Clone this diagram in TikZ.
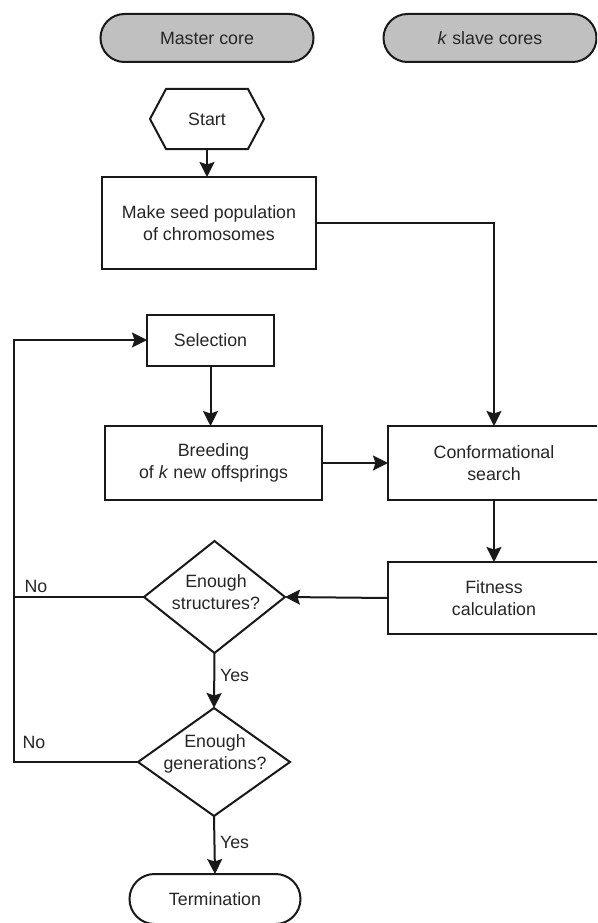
\documentclass[tikz,border=0pt]{standalone}
\usepackage{fontspec}
\setmainfont{Liberation Sans}
\usetikzlibrary{shapes.misc,shapes.geometric,arrows.meta}
\definecolor{pillgray}{RGB}{192,192,192}
\definecolor{txt}{RGB}{38,38,38}
\definecolor{lncol}{RGB}{25,25,25}
\begin{document}
\begin{tikzpicture}[x=1pt,y=-1pt,
  every node/.style={font=\fontsize{17.8}{22}\selectfont, text=txt, inner sep=0pt, outer sep=0pt},
  ln/.style={line width=2pt, draw=lncol},
  arr/.style={ln, -{Stealth[length=15pt,width=15pt,inset=2.5pt]}},
  box/.style={ln, rectangle, align=center},
  pill/.style={ln, rounded rectangle, align=center},
  dia/.style={ln, diamond},
  lab/.style={align=center}
]
\useasboundingbox (0,0) rectangle (597,923);
\fill[white] (0,0) rectangle (597,923);
\clip (0,0) rectangle (597,923);

% header pills
\node[pill, fill=pillgray, minimum width=213pt, minimum height=48pt] (master) at (207,38) {Master core};
\node[pill, fill=pillgray, minimum width=213pt, minimum height=48pt] (slave) at (490,38) {\textit{k} slave cores};

% start hexagon
\node[minimum width=114pt, minimum height=60pt, align=center] (start) at (207,119) {Start};
\draw[ln] ([xshift=16pt]start.north west) -- ([xshift=-16pt]start.north east) -- (start.east)
  -- ([xshift=-16pt]start.south east) -- ([xshift=16pt]start.south west) -- (start.west) -- cycle;

% boxes
\node[box, minimum width=214pt, minimum height=92pt] (seed) at (209,223) {Make seed population\\of chromosomes};
\node[box, minimum width=127pt, minimum height=51pt] (sel) at (210.5,340) {Selection};
\node[box, minimum width=217pt, minimum height=74pt] (breed) at (213.5,463) {Breeding\\of \textit{k} new offsprings};
\node[box, minimum width=212pt, minimum height=74pt] (conf) at (494,463) {Conformational\\search};
\node[box, minimum width=212pt, minimum height=72pt] (fit) at (494,598) {Fitness\\calculation};

% decisions
\node[dia, minimum width=141pt, minimum height=112pt] (d1) at (214.5,597) {};
\node[lab] (d1t) at (216,592) {Enough\\structures?};
\node[dia, minimum width=152pt, minimum height=108pt] (d2) at (214,762) {};
\node[lab] (d2t) at (215,754) {Enough\\generations?};

% termination
\node[pill, minimum width=171pt, minimum height=50pt] (term) at (215,899) {Termination};

% loop coordinates
\coordinate (L0) at (14,340);
\coordinate (L1) at (14,597);
\coordinate (L2) at (14,762);

% connectors
\draw[arr] (start.south) -- (start.south |- seed.north);
\draw[arr] (seed.east) -| (conf.north);
\draw[arr] (sel.south) -- (sel.south |- breed.north);
\draw[arr] (breed.east) -- (conf.west);
\draw[arr] (conf.south) -- (fit.north);
\draw[arr] (fit.west) -- (d1.east);
\draw[arr] (d1.south) -- (d2.north);
\draw[arr] (d2.south) -- (term.north);
\draw[ln] (d1.west) -- (L1);
\draw[arr] (d2.west) -- (L2) -- (L0) -- (sel.west);

% labels
\node (no1) at (36,586) {No};
\node (no2) at (34,742) {No};
\node[anchor=west] (yes1) at (220,675) {Yes};
\node[anchor=west] (yes2) at (220,842) {Yes};
\end{tikzpicture}
\end{document}
